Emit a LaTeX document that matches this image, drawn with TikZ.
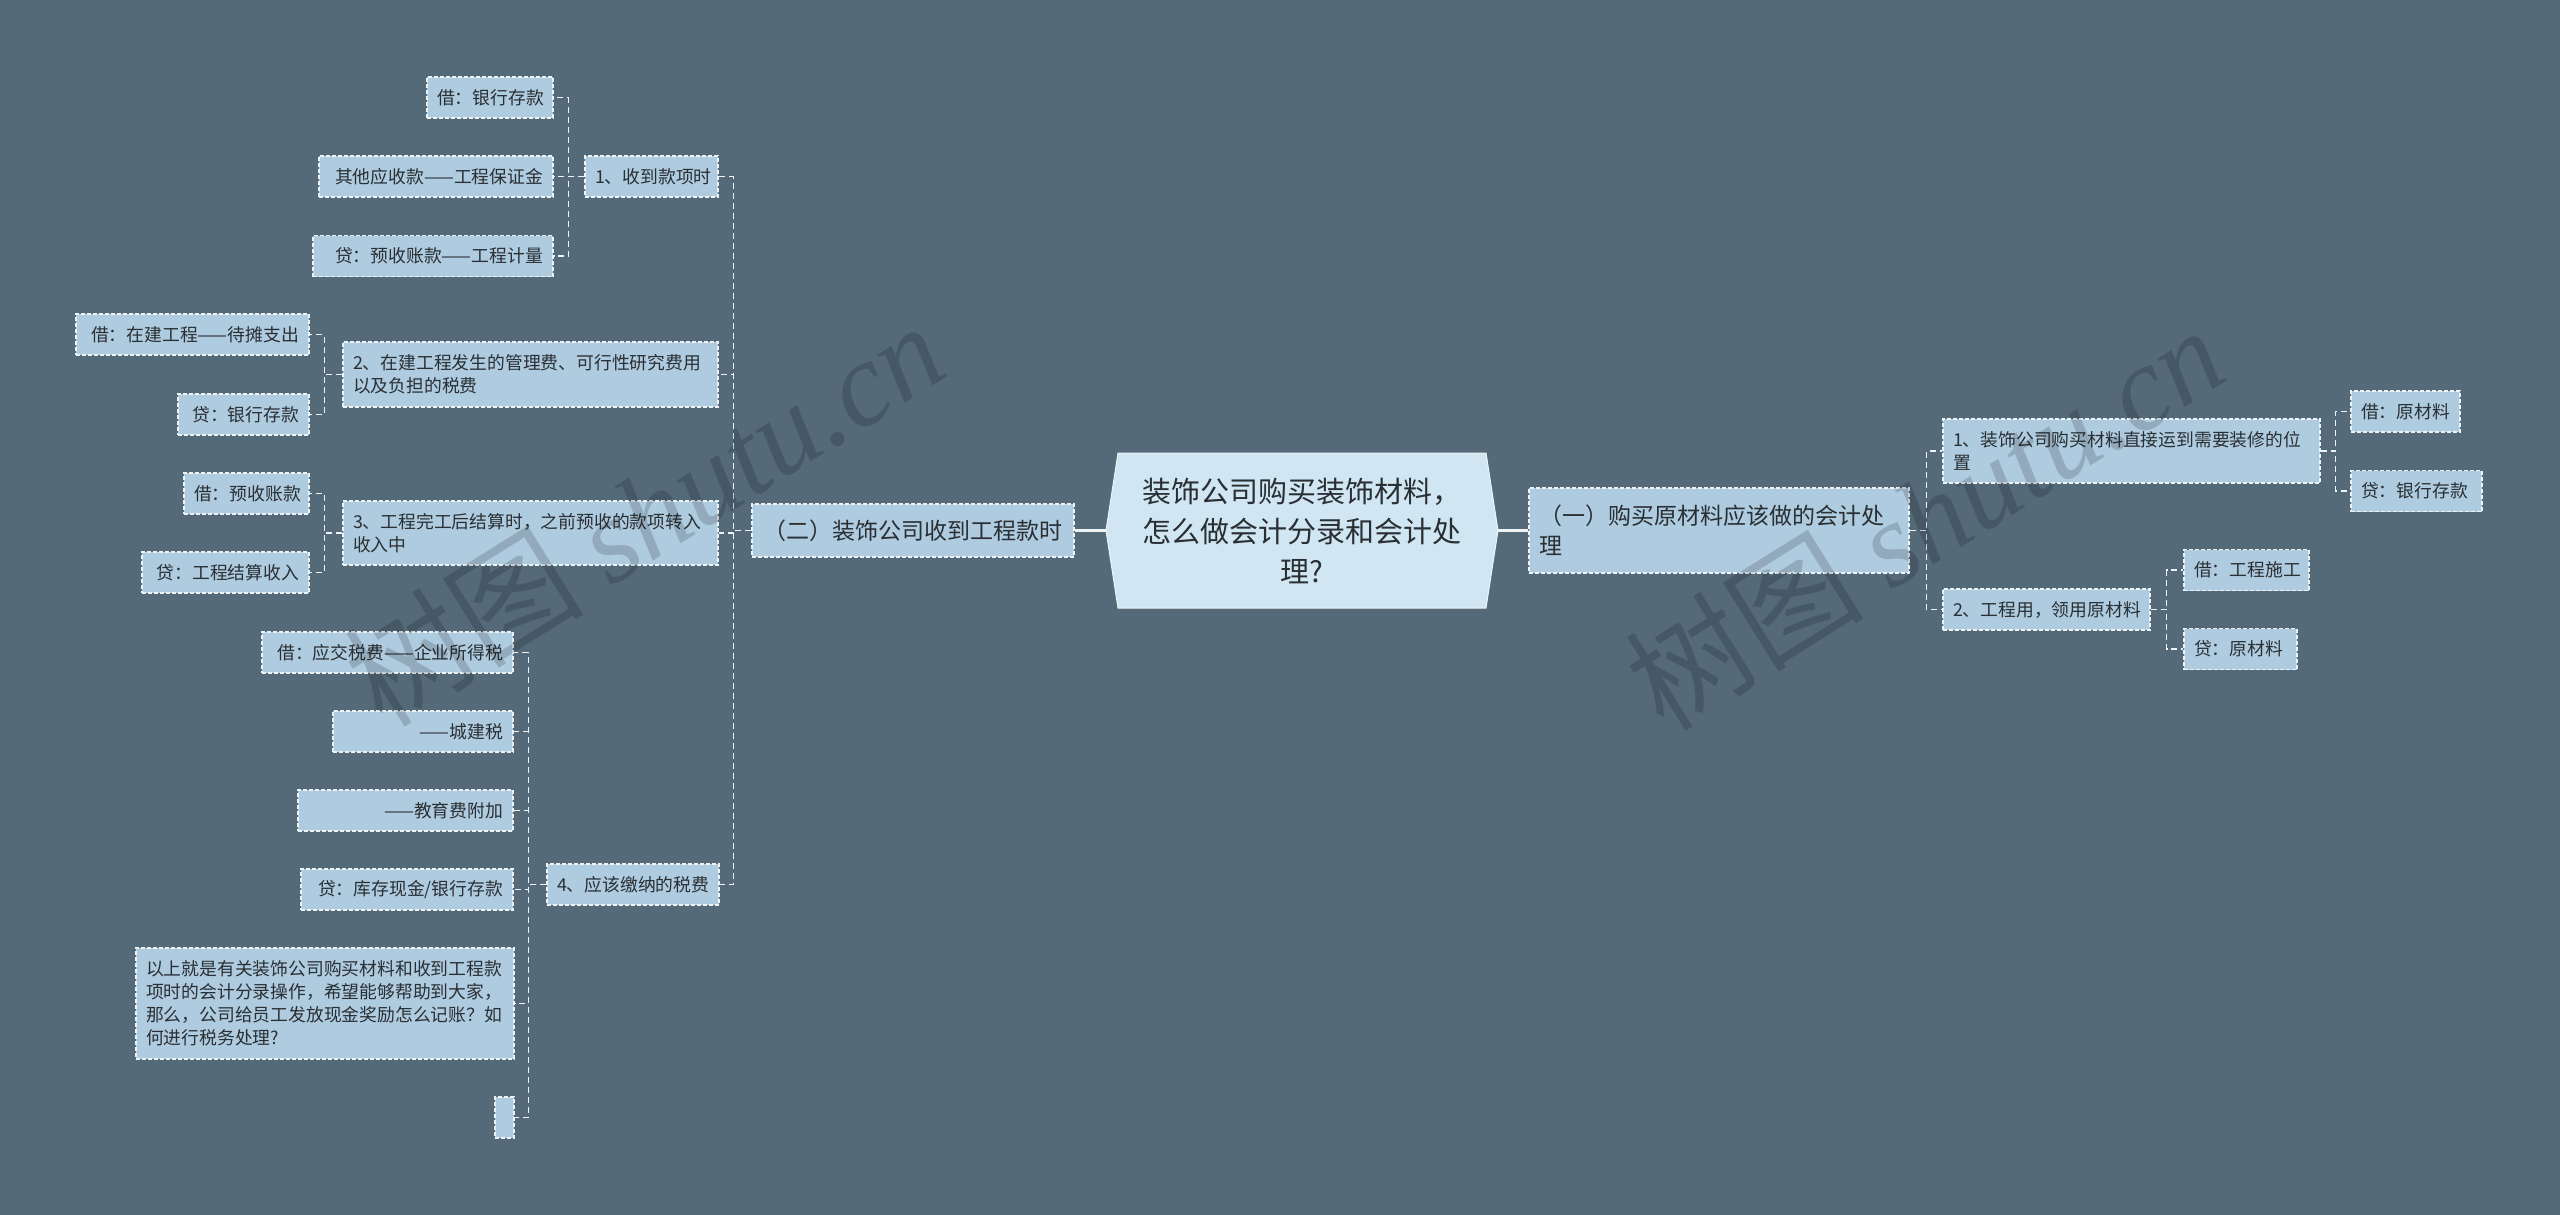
\documentclass[tikz,border=0pt]{standalone}
\usepackage{fontspec}
\setmainfont{Noto Sans CJK SC}
\newfontfamily\wmserif{Liberation Serif}
\definecolor{bg}{HTML}{546A79}
\definecolor{nodefill}{HTML}{AECBE0}
\definecolor{centerfill}{HTML}{D0E6F3}
\definecolor{txt}{HTML}{2A2F33}
\definecolor{edge}{HTML}{EEF3F6}
\tikzset{
  box/.style={draw=edge, line width=1.1pt, dash pattern=on 4pt off 2pt, fill=nodefill, text=txt,
    inner xsep=10pt, inner ysep=0pt, minimum height=41pt, font=\fontsize{17.8}{23}\selectfont},
  lvone/.style={box, font=\fontsize{23}{30}\selectfont},
  conn/.style={draw=edge, line width=1.6pt, dash pattern=on 6pt off 4pt},
  trunk/.style={draw=edge, line width=2.2pt},
  wm/.style={rotate=32, text=black, opacity=0.16, font=\fontsize{120}{120}\selectfont},
}
\begin{document}
\begin{tikzpicture}[x=1pt,y=-1pt]
\useasboundingbox (0,0) rectangle (2560,1215);
\fill[bg] (0,0) rectangle (2560,1215);

% centre shape
\filldraw[fill=centerfill, draw=edge, line width=1pt]
  (1106,530.5) -- (1118,453) -- (1486,453) -- (1498,530.5) -- (1486,608) -- (1118,608) -- cycle;
\node[font=\fontsize{29}{40}\selectfont, text=txt, align=center, minimum width=392pt, minimum height=155pt, inner sep=0pt]
  (C) at (1302,530.5) {装饰公司购买装饰材料，\\怎么做会计分录和会计处\\理?};

% level one
\node[lvone, text width=302pt, align=center, minimum height=53pt] (L) at (913,530.5) {（二）装饰公司收到工程款时};
\node[lvone, text width=360pt, align=left, minimum height=85pt] (R) at (1719,530.5) {（一）购买原材料应该做的会计处\\理};

% left level two
\node[box, text width=113pt, align=center] (n1) at (651.5,176.5) {1、收到款项时};
\node[box, text width=355pt, align=left, minimum height=65pt] (n2) at (530.5,374.5) {2、在建工程发生的管理费、可行性研究费用\\以及负担的税费};
\node[box, text width=355pt, align=left, minimum height=64pt] (n3) at (530.5,533) {3、工程完工后结算时，之前预收的款项转入\\收入中};
\node[box, text width=152pt, align=center] (n4) at (633,884.5) {4、应该缴纳的税费};

% leaves of n1
\node[box, text width=106pt, align=right] (a1) at (490,97.5) {借：银行存款};
\node[box, text width=214pt, align=right] (a2) at (436,176.5) {其他应收款——工程保证金};
\node[box, text width=220pt, align=right] (a3) at (433,256) {贷：预收账款——工程计量};

% leaves of n2
\node[box, text width=213pt, align=right] (b1) at (192.5,334.5) {借：在建工程——待摊支出};
\node[box, text width=111pt, align=right] (b2) at (243.5,414.5) {贷：银行存款};

% leaves of n3
\node[box, text width=105pt, align=right] (c1) at (246.5,493.5) {借：预收账款};
\node[box, text width=147pt, align=right] (c2) at (225.5,572.5) {贷：工程结算收入};

% leaves of n4
\node[box, text width=231pt, align=right] (d1) at (387.5,652.5) {借：应交税费——企业所得税};
\node[box, text width=160pt, align=right] (d2) at (423,731.5) {——城建税};
\node[box, text width=195pt, align=right] (d3) at (405.5,810.5) {——教育费附加};
\node[box, text width=192pt, align=right] (d4) at (407,889.5) {贷：库存现金/银行存款};
\node[box, text width=358pt, align=left, minimum height=111pt] (d5) at (325,1003.5)
  {以上就是有关装饰公司购买材料和收到工程款\\项时的会计分录操作，希望能够帮助到大家，\\那么，公司给员工发放现金奖励怎么记账？如\\何进行税务处理?};
\node[box, inner xsep=0pt, minimum width=19pt] (d6) at (504.5,1117.5) {};

% right level two
\node[box, text width=357pt, align=left, minimum height=64pt] (r1) at (2131.5,451) {1、装饰公司购买材料直接运到需要装修的位\\置};
\node[box, text width=187pt, align=left] (r2) at (2046.5,609.5) {2、工程用，领用原材料};

% right leaves
\node[box, text width=89pt, align=left] (r1a) at (2405.5,411.5) {借：原材料};
\node[box, text width=111pt, align=left] (r1b) at (2416.5,491) {贷：银行存款};
\node[box, text width=105pt, align=left] (r2a) at (2246.5,570) {借：工程施工};
\node[box, text width=93pt, align=left] (r2b) at (2240.5,649) {贷：原材料};

% connectors
\draw[trunk] (L.east) -- (C.west);
\draw[trunk] (C.east) -- (R.west);
\foreach \c in {n1,n2,n3,n4} \draw[conn] (L.west) -- ++(-18,0) |- (\c.east);
\foreach \c in {a1,a2,a3} \draw[conn] (n1.west) -- ++(-16,0) |- (\c.east);
\foreach \c in {b1,b2} \draw[conn] (n2.west) -- ++(-18,0) |- (\c.east);
\foreach \c in {c1,c2} \draw[conn] (n3.west) -- ++(-18,0) |- (\c.east);
\foreach \c in {d1,d2,d3,d4,d5,d6} \draw[conn] (n4.west) -- ++(-18,0) |- (\c.east);
\foreach \c in {r1,r2} \draw[conn] (R.east) -- ++(17,0) |- (\c.west);
\foreach \c in {r1a,r1b} \draw[conn] (r1.east) -- ++(15,0) |- (\c.west);
\foreach \c in {r2a,r2b} \draw[conn] (r2.east) -- ++(16,0) |- (\c.west);

% watermarks
\node[wm] (wm1) at (644,513) {树图 {\wmserif\itshape shutu.cn}};
\node[wm] (wm2) at (1924,517) {树图 {\wmserif\itshape shutu.cn}};
\end{tikzpicture}
\end{document}
